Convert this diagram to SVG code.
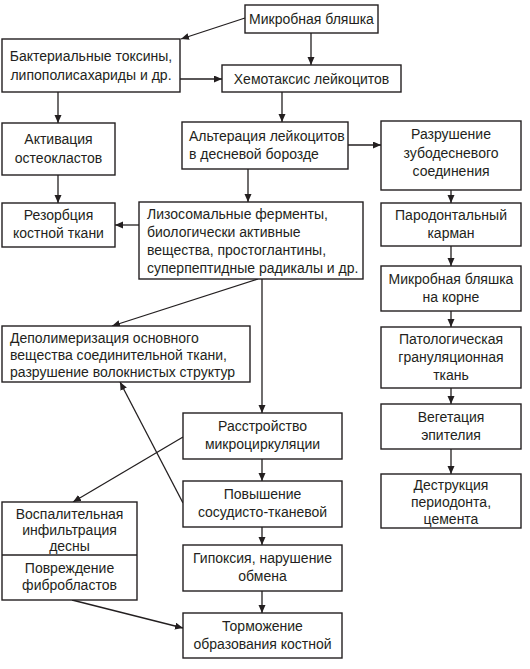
<svg xmlns="http://www.w3.org/2000/svg" width="530" height="669" viewBox="0 0 530 669">
<defs>
<style>
rect{fill:#fff;stroke:#231f20;stroke-width:1.4}
text{font-family:"Liberation Sans",Arial,sans-serif;font-size:14px;fill:#231f20}
.c{text-anchor:middle}
#connectors line{stroke:#231f20;stroke-width:1.3;fill:none}
.a{marker-end:url(#ah)}
</style>
<marker id="ah" markerUnits="userSpaceOnUse" markerWidth="9" markerHeight="8" refX="8" refY="3.5" orient="auto"><path d="M0,0 L8,3.5 L0,7 z" fill="#231f20"/></marker>
</defs>
<rect x="0" y="0" width="530" height="669" style="fill:#fff;stroke:none"/>
<g id="connectors">
<line class="a" x1="245" y1="18" x2="181" y2="39"/>
<line class="a" x1="311" y1="33" x2="311" y2="65"/>
<line class="a" x1="180" y1="79" x2="222" y2="79"/>
<line class="a" x1="58" y1="92" x2="58" y2="123"/>
<line class="a" x1="282" y1="92" x2="282" y2="122"/>
<line class="a" x1="348" y1="145" x2="381" y2="145"/>
<line class="a" x1="58" y1="175" x2="58" y2="203"/>
<line class="a" x1="248" y1="169" x2="248" y2="202"/>
<line class="a" x1="139" y1="225" x2="115" y2="225"/>
<line class="a" x1="451" y1="190" x2="451" y2="203"/>
<line class="a" x1="451" y1="246" x2="451" y2="266"/>
<line class="a" x1="451" y1="311" x2="451" y2="327"/>
<line class="a" x1="451" y1="388" x2="451" y2="404"/>
<line class="a" x1="451" y1="449" x2="451" y2="474"/>
<line class="a" x1="258" y1="279" x2="112" y2="326"/>
<line class="a" x1="262" y1="279" x2="262" y2="413"/>
<line class="a" x1="183" y1="437" x2="73" y2="502"/>
<line class="a" x1="183" y1="503" x2="120" y2="382"/>
<line class="a" x1="262" y1="459" x2="262" y2="481"/>
<line class="a" x1="262" y1="527" x2="262" y2="545"/>
<line class="a" x1="262" y1="591" x2="262" y2="613"/>
<line class="a" x1="72" y1="600" x2="183" y2="628"/>
</g>
<g id="mikrob"><rect x="245" y="5" width="133" height="28"/><text class="c" x="311.5" y="24">Микробная бляшка</text></g>
<g id="toxins"><rect x="2" y="39" width="178" height="53"/><text class="c" x="91" y="61">Бактериальные токсины,</text><text class="c" x="91" y="80">липополисахариды и др.</text></g>
<g id="chemo"><rect x="222" y="65" width="179" height="27"/><text class="c" x="311.5" y="83.5">Хемотаксис лейкоцитов</text></g>
<g id="osteo"><rect x="2" y="123" width="113" height="52"/><text class="c" x="58.5" y="144">Активация</text><text class="c" x="58.5" y="163">остеокластов</text></g>
<g id="alter"><rect x="182" y="122" width="166" height="47"/><text x="189" y="141">Альтерация лейкоцитов</text><text x="189" y="159">в десневой борозде</text></g>
<g id="destr"><rect x="381" y="121" width="140" height="69"/><text class="c" x="451" y="139">Разрушение</text><text class="c" x="451" y="157.5">зубодесневого</text><text class="c" x="451" y="176">соединения</text></g>
<g id="rezorb"><rect x="2" y="203" width="113" height="44"/><text class="c" x="58.5" y="220">Резорбция</text><text class="c" x="58.5" y="238">костной ткани</text></g>
<g id="lizo"><rect x="139" y="202" width="224" height="77"/><text x="147" y="219">Лизосомальные ферменты,</text><text x="147" y="237">биологически активные</text><text x="147" y="255">вещества, простоглантины,</text><text x="147" y="273">суперпептидные радикалы и др.</text></g>
<g id="parod"><rect x="381" y="203" width="140" height="43"/><text class="c" x="451" y="220">Пародонтальный</text><text class="c" x="451" y="238">карман</text></g>
<g id="root"><rect x="381" y="266" width="140" height="45"/><text class="c" x="451" y="284">Микробная бляшка</text><text class="c" x="451" y="302">на корне</text></g>
<g id="granul"><rect x="381" y="327" width="140" height="61"/><text class="c" x="451" y="344">Патологическая</text><text class="c" x="451" y="362">грануляционная</text><text class="c" x="451" y="380">ткань</text></g>
<g id="veget"><rect x="381" y="404" width="140" height="45"/><text class="c" x="451" y="422">Вегетация</text><text class="c" x="451" y="440">эпителия</text></g>
<g id="destrper"><rect x="381" y="474" width="140" height="54"/><text class="c" x="451" y="490">Деструкция</text><text class="c" x="451" y="507">периодонта,</text><text class="c" x="451" y="524">цемента</text></g>
<g id="depol"><rect x="2" y="326" width="248" height="56"/><text x="10" y="343">Деполимеризация основного</text><text x="10" y="360">вещества соединительной ткани,</text><text x="10" y="377">разрушение волокнистых структур</text></g>
<g id="micro"><rect x="183" y="413" width="159" height="46"/><text class="c" x="262.5" y="431">Расстройство</text><text class="c" x="262.5" y="449">микроциркуляции</text></g>
<g id="povysh"><rect x="183" y="481" width="159" height="46"/><text class="c" x="262.5" y="499">Повышение</text><text class="c" x="262.5" y="517">сосудисто-тканевой</text></g>
<g id="hypox"><rect x="183" y="545" width="159" height="46"/><text class="c" x="262.5" y="563">Гипоксия, нарушение</text><text class="c" x="262.5" y="581">обмена</text></g>
<g id="torm"><rect x="183" y="613" width="159" height="45"/><text class="c" x="262.5" y="631">Торможение</text><text class="c" x="262.5" y="649">образования костной</text></g>
<g id="vospal"><rect x="2" y="502" width="135" height="98"/><line x1="2" y1="555" x2="137" y2="555" style="stroke:#231f20;stroke-width:1.4"/><text class="c" x="69.5" y="519">Воспалительная</text><text class="c" x="69.5" y="535">инфильтрация</text><text class="c" x="69.5" y="551">десны</text><text class="c" x="69.5" y="573">Повреждение</text><text class="c" x="69.5" y="590">фибробластов</text></g>
</svg>
